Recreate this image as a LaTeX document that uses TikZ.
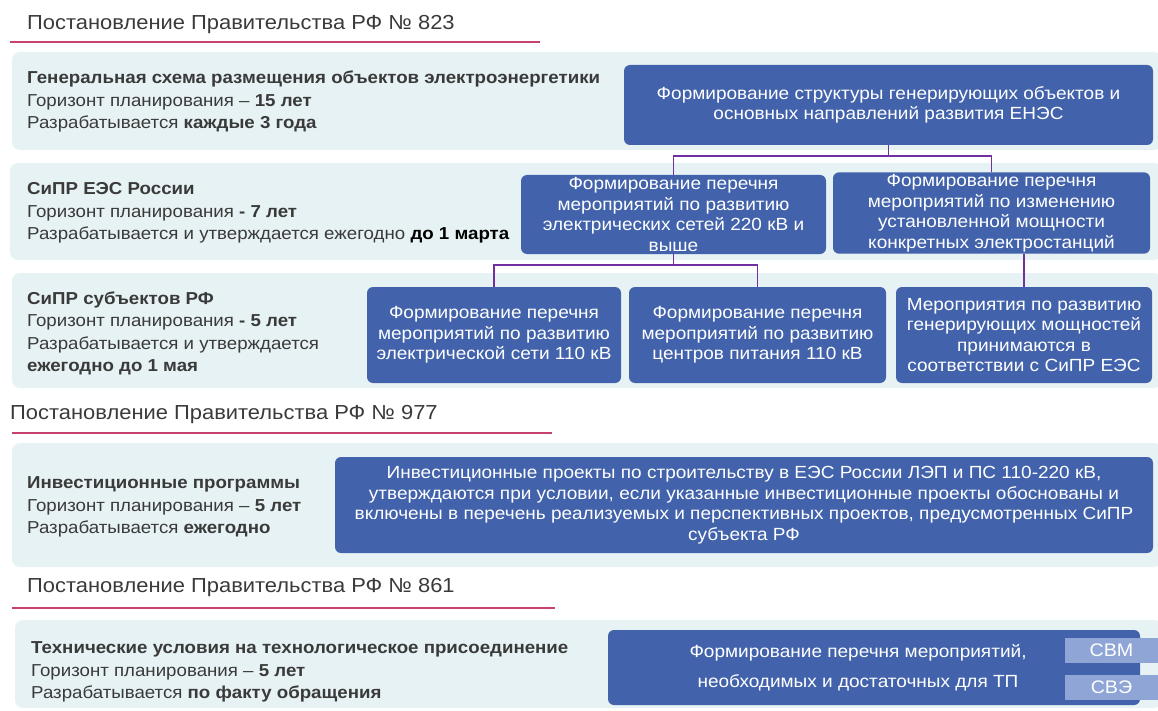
\documentclass[tikz,border=0pt]{standalone}
\usepackage{fontspec}
\setmainfont{Liberation Sans}[FakeStretch=1.08]
\usetikzlibrary{positioning}
\definecolor{boxblue}{HTML}{4263AB}
\definecolor{bandbg}{HTML}{E6F2F4}
\definecolor{linkpurple}{HTML}{7030A0}
\definecolor{rulered}{HTML}{C8426F}
\definecolor{tagblue}{HTML}{8EA5D6}
\definecolor{txtgray}{HTML}{3A3A3A}
\begin{document}
\begin{tikzpicture}[x=1pt, y=-1pt,
            band/.style={fill=bandbg, rounded corners=8pt},
            rule/.style={draw=rulered, line width=1.4pt},
            hdr/.style={anchor=west, inner sep=0pt, text=txtgray,
              font=\fontsize{20.3}{24}\selectfont},
            info/.style={anchor=west, inner sep=0pt, align=left, text=txtgray,
              font=\fontsize{17.3}{22.5}\selectfont},
            blk/.style={fill=boxblue, rounded corners=6pt, text=white,
              align=center, inner sep=2pt,
              font=\fontsize{17.6}{20.5}\selectfont},
            tag/.style={fill=tagblue, text=white, inner sep=0pt,
              minimum width=93pt, minimum height=25pt,
              font=\fontsize{18.2}{20}\selectfont},
            link/.style={draw=linkpurple, line width=1.6pt}]
          \useasboundingbox (0,0) rectangle (1158,711);
          % 823
          \node[hdr] (hdrA) at (27,25) {Постановление Правительства РФ № 823};
          \draw[rule] (10,42) -- (540,42);
          \fill[band] (12,52) rectangle (1162,150);
          \fill[band] (10,163) rectangle (1162,260);
          \fill[band] (12,273) rectangle (1162,388);
          \node[info] (genTxt) at (27,101.5) {\textbf{Генеральная схема размещения объектов электроэнергетики}\\
            Горизонт планирования – \textbf{15 лет}\\
            Разрабатывается \textbf{каждые 3 года}};
          \node[info] (eesTxt) at (27,213) {\textbf{СиПР ЕЭС России}\\
            Горизонт планирования \textbf{- 7 лет}\\
            Разрабатывается и утверждается ежегодно {\color{black}\bfseries до 1 марта}};
          \node[info] (subTxt) at (27,333.5) {\textbf{СиПР субъектов РФ}\\
            Горизонт планирования \textbf{- 5 лет}\\
            Разрабатывается и утверждается\\
            \textbf{ежегодно до 1 мая}};
          \node[blk, minimum width=529pt, minimum height=80pt] (gen) at (888.5,105)
            {Формирование структуры генерирующих объектов и\\ основных направлений развития ЕНЭС};
          \node[blk, minimum width=305pt, minimum height=79pt] (net) at (673.5,214.5)
            {Формирование перечня\\ мероприятий по развитию\\ электрических сетей 220 кВ и\\ выше};
          \node[blk, minimum width=317pt, minimum height=80pt] (plant) at (991.5,213)
            {Формирование перечня\\ мероприятий по изменению\\ установленной мощности\\ конкретных электростанций};
          \node[blk, minimum width=254pt, minimum height=96pt] (grid) at (494,335)
            {Формирование перечня\\ мероприятий по развитию\\ электрической сети 110 кВ};
          \node[blk, minimum width=257pt, minimum height=96pt] (feed) at (757.5,335)
            {Формирование перечня\\ мероприятий по развитию\\ центров питания 110 кВ};
          \node[blk, minimum width=256pt, minimum height=96pt] (pow) at (1024,335)
            {Мероприятия по развитию\\ генерирующих мощностей\\ принимаются в\\ соответствии с СиПР ЕЭС};
          \draw[link] (gen.south) -- ++(0,11);
          \draw[link] (net.north) -- ++(0,-19) -| (plant.north);
          \draw[link] (net.south) -- ++(0,11);
          \draw[link] (grid.north) -- ++(0,-22) -| (feed.north);
          \draw[link] (pow.north) -- (pow.north |- plant.south);
          % 977
          \node[hdr] (hdrB) at (10,415) {Постановление Правительства РФ № 977};
          \draw[rule] (12,433) -- (552,433);
          \fill[band] (12,443) rectangle (1162,567);
          \node[info] (invTxt) at (27,507) {\textbf{Инвестиционные программы}\\
            Горизонт планирования – \textbf{5 лет}\\
            Разрабатывается \textbf{ежегодно}};
          \node[blk, minimum width=818pt, minimum height=96pt] (inv) at (744,505)
            {Инвестиционные проекты по строительству в ЕЭС России ЛЭП и ПС 110-220 кВ,\\
            утверждаются при условии, если указанные инвестиционные проекты обоснованы и\\
            включены в перечень реализуемых и перспективных проектов, предусмотренных СиПР\\
            субъекта РФ};
          % 861
          \node[hdr] (hdrC) at (27,588) {Постановление Правительства РФ № 861};
          \draw[rule] (12,608) -- (555,608);
          \fill[band] (15,620) rectangle (1162,708);
          \node[info] (tuTxt) at (31,672) {\textbf{Технические условия на технологическое присоединение}\\
            Горизонт планирования – \textbf{5 лет}\\
            Разрабатывается \textbf{по факту обращения}};
          \node[blk, minimum width=532pt, minimum height=75pt] (tp) at (874,667.5) {};
          \node[blk, fill=none, font=\fontsize{17.6}{30}\selectfont] (tpTxt) at ([xshift=-16pt]tp.center)
            {Формирование перечня мероприятий,\\ необходимых и достаточных для ТП};
          \node[tag] (svm) at (1111.5,650.5) {СВМ};
          \node[tag] (sve) at (1111.5,687) {СВЭ};
        \end{tikzpicture}
\end{document}
